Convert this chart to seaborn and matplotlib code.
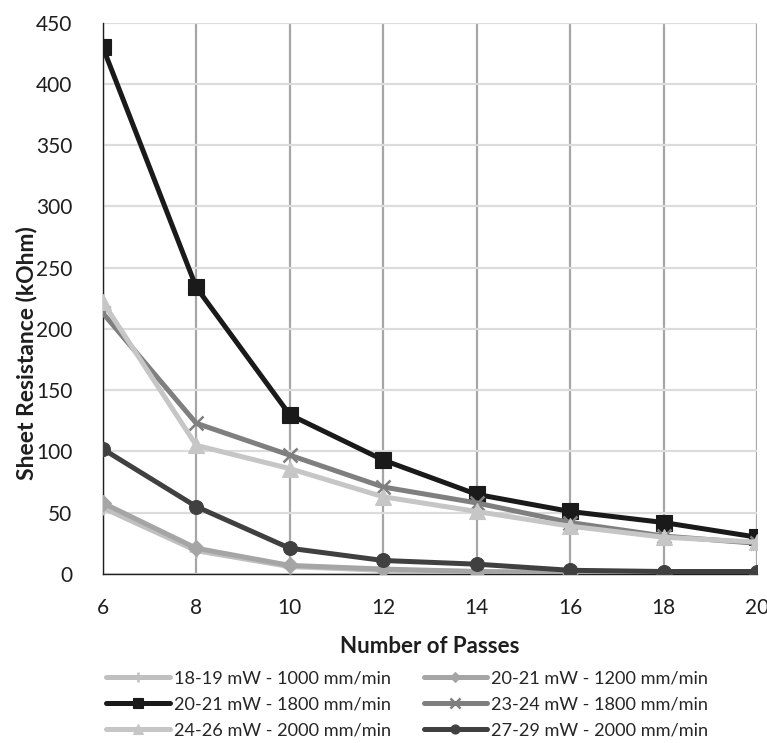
import matplotlib
matplotlib.use("Agg")
import matplotlib.pyplot as plt
import seaborn as sns
import pandas as pd
import numpy as np

passes = [6, 8, 10, 12, 14, 16, 18, 20]
series_names = [
    "18-19 mW - 1000 mm/min",
    "20-21 mW - 1200 mm/min",
    "20-21 mW - 1800 mm/min",
    "23-24 mW - 1800 mm/min",
    "24-26 mW - 2000 mm/min",
    "27-29 mW - 2000 mm/min",
]
s1 = [54, 19, 6, 3, 2, 1, 1, 1]
s2 = [58, 21, 7, 4, 2, 1, 1, 1]
s3 = [430, 234, 130, 93, 65, 51, 42, 30]
s4 = [213, 123, 97, 71, 58, 42, 31, 25]
s5 = [222, 105, 86, 63, 51, 39, 30, 26]
s6 = [102, 55, 21, 11, 8, 3, 2, 2]
yticks = [0, 50, 100, 150, 200, 250, 300, 350, 400, 450]

values = [s1, s2, s3, s4, s5, s6]
df = pd.DataFrame({
    "Passes": np.tile(passes, len(series_names)),
    "Resistance": np.concatenate(values),
    "Series": np.repeat(series_names, len(passes)),
})

colors = ["#c0c0c0", "#a5a5a5", "#1a1a1a", "#7f7f7f", "#c6c6c6", "#404040"]
markers = ["+", "D", "s", "x", "^", "o"]
msizes = [10, 8, 12, 10, 11, 10]

sns.set_theme(style="white")
plt.rcParams["font.family"] = ["Lato", "DejaVu Sans"]

fig = plt.figure(figsize=(7.67, 7.43), dpi=100)
ax = fig.add_axes([0.134, 0.2275, 0.853, 0.742])

for i, name in enumerate(series_names):
    sub = df[df["Series"] == name]
    sns.lineplot(data=sub, x="Passes", y="Resistance", ax=ax, color=colors[i],
                 linewidth=3.6, marker=markers[i], markersize=msizes[i],
                 markeredgecolor=colors[i],
                 markeredgewidth=1.8 if markers[i] in "+x" else 0.8,
                 label=name, zorder=3 + i)

ax.set_xlim(6, 20)
ax.set_ylim(0, 450)
ax.set_xticks(passes)
ax.set_yticks(yticks)
ax.tick_params(axis="x", labelsize=15, labelcolor="#1e1e1e", length=5, width=1.6,
               color="#a6a6a6", direction="out", pad=12)
ax.tick_params(axis="y", labelsize=15, labelcolor="#1e1e1e", length=0, pad=22)
ax.xaxis.grid(True, color="#a6a6a6", linewidth=1.6)
ax.yaxis.grid(True, color="#dcdcdc", linewidth=1.6)
ax.set_axisbelow(True)
for side in ["top", "right"]:
    ax.spines[side].set_visible(False)
for side in ["left", "bottom"]:
    ax.spines[side].set_color("#1e1e1e")
    ax.spines[side].set_linewidth(1.0)

ax.set_xlabel("Number of Passes", fontsize=16, fontweight="bold", color="#1e1e1e")
ax.set_ylabel("Sheet Resistance (kOhm)", fontsize=16.5, fontweight="bold", color="#1e1e1e")
ax.xaxis.set_label_coords(0.50, -0.112)
ax.yaxis.set_label_coords(-0.10, 0.40)

handles, labels = ax.get_legend_handles_labels()
ax.get_legend().remove()
order = [0, 2, 4, 1, 3, 5]
fig.legend([handles[k] for k in order], [labels[k] for k in order],
           loc="center", bbox_to_anchor=(0.531, 0.0515), ncol=2,
           frameon=False, fontsize=13.1, handlelength=3.5, handletextpad=0.22,
           columnspacing=1.8, labelspacing=0.55, borderpad=0, borderaxespad=0,
           markerscale=0.65)

fig.savefig("out.png", dpi=100)
